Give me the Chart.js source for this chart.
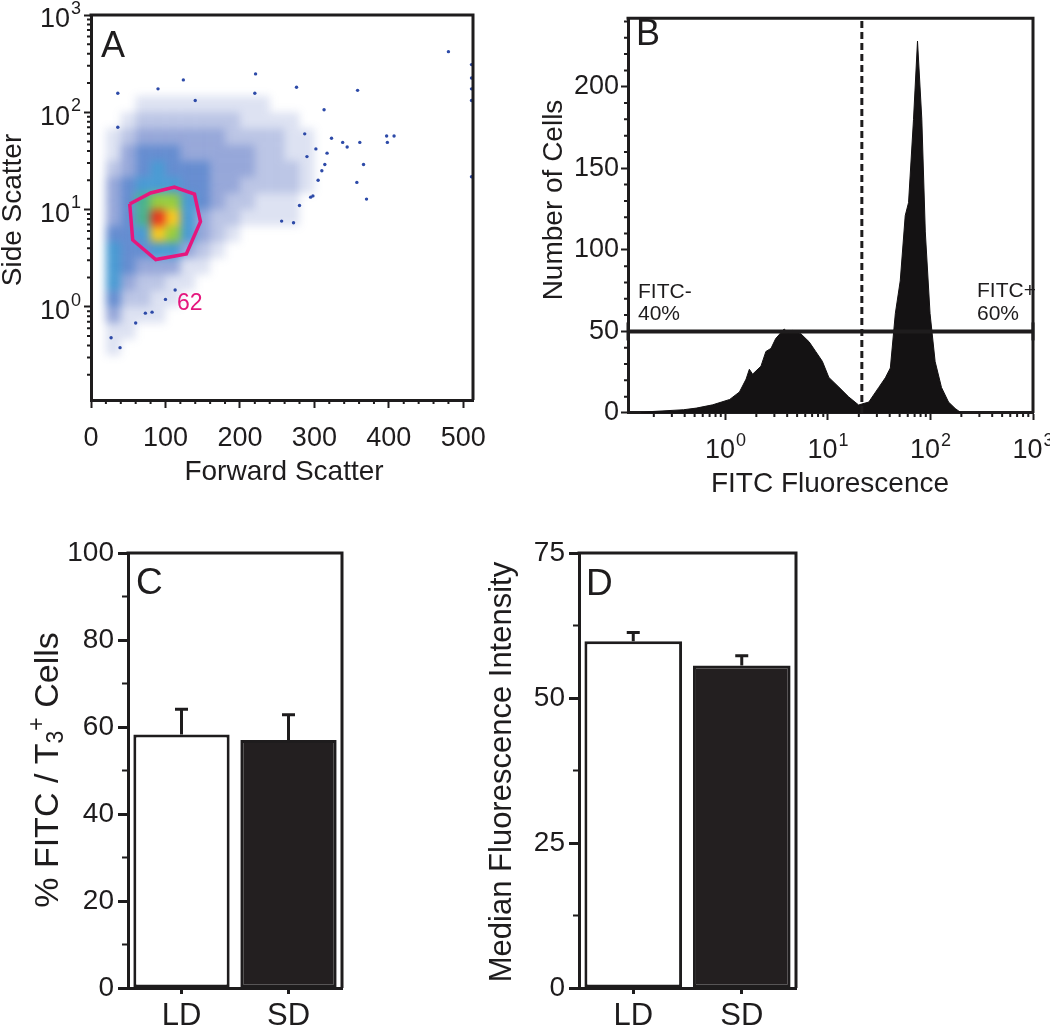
<!DOCTYPE html>
<html lang="en">
<head>
<meta charset="UTF-8" />
<title>T3-FITC uptake: flow cytometry</title>
<script src="https://cdn.jsdelivr.net/npm/chart.js@4"></script>
<style>
  body { margin: 0; background: #fff; }
  #wrap { position: relative; width: 1050px; height: 1027px; }
  #wrap canvas { position: absolute; left: 0; top: 0; }
</style>
</head>
<body>
<div id="wrap">
  <canvas id="chartA" width="1050" height="1027"></canvas>
  <canvas id="chartB" width="1050" height="1027"></canvas>
  <canvas id="chartC" width="1050" height="1027"></canvas>
  <canvas id="chartD" width="1050" height="1027"></canvas>
</div>
<script>
// ---------- data ----------
// A: forward / side scatter. Event density per bin (0 = empty .. 9 = densest)
const fscBinEdges = [0, 20, 40, 60, 80, 100, 120, 140, 160, 180, 200, 220, 240, 260, 280, 300];
const sscBinEdges = [0.316, 0.464, 0.681, 1, 1.47, 2.15, 3.16, 4.64, 6.81, 10, 14.7, 21.5, 31.6, 46.4, 68.1, 100, 147];
const scatterDensity = [
  [0,1,0,0,0,0,0,0,0,0,0,0,0,0,0],
  [0,1,1,0,0,0,0,0,0,0,0,0,0,0,0],
  [0,3,1,1,1,0,0,0,0,0,0,0,0,0,0],
  [0,4,2,2,1,1,0,0,0,0,0,0,0,0,0],
  [0,5,3,2,2,1,1,0,0,0,0,0,0,0,0],
  [0,5,4,3,3,3,1,1,0,0,0,0,0,0,0],
  [0,5,4,4,5,5,3,2,1,0,0,0,0,0,0],
  [0,4,4,5,8,7,5,3,2,1,0,0,0,0,0],
  [0,3,4,6,9,8,5,3,2,2,1,1,1,1,0],
  [0,3,4,6,7,7,5,4,3,2,2,1,1,1,0],
  [0,3,4,5,5,5,4,4,3,3,2,2,2,2,1],
  [0,2,3,4,5,4,4,4,3,3,3,2,2,2,1],
  [0,1,3,4,4,4,3,3,3,3,3,2,2,1,1],
  [0,1,2,3,3,3,3,3,3,2,2,2,2,1,1],
  [0,0,1,2,2,2,2,2,2,2,1,1,1,1,0],
  [0,0,0,1,1,1,1,1,1,1,1,1,0,0,0]
];
// isolated events outside the main cloud
const sparseFsc = [276, 358, 397, 407, 398, 366, 357, 370, 338, 344, 361, 323, 313, 317, 314, 310, 298, 295, 272, 256,
  511, 511, 511, 511, 511, 480, 36, 90, 124, 221, 36, 140, 220, 27, 39, 60, 73, 82, 100, 113, 290, 302, 287, 305, 280];
const sparseSsc = [181, 168, 57, 57, 49, 29, 19, 12.8, 49, 44, 49, 54, 106, 38, 29, 25, 13.8, 13.4, 7.3, 7.6,
  309, 225, 174, 132, 21.7, 420, 157, 174, 215, 248, 70, 132, 157, 0.48, 0.38, 0.68, 0.86, 0.88, 1.19, 1.49, 35, 42, 60, 20, 11];
const gateFsc = [52, 80, 112, 139, 147, 128, 87, 56, 52];
const gateSsc = [11.4, 14.8, 17.0, 14.4, 7.5, 3.5, 3.06, 4.86, 11.4];
const gatePercent = '62';
const fscTicks = [0, 100, 200, 300, 400, 500];
const sscDecades = [0, 1, 2, 3];

// B: FITC histogram
const fitcIntensity = [0.15, 0.18, 0.39, 0.52, 0.75, 1.1, 1.37, 1.59, 1.71, 1.84, 2.22, 2.48, 2.78, 3.09, 3.74, 4.1, 4.51,
  5.43, 6.55, 7.59, 8.81, 10.2, 12.8, 15.9, 19.9, 21.4, 25, 31.3, 36.3, 40.6, 45.4, 50.7, 56.7, 61.1, 68.3, 74.7, 82.3,
  89, 99, 111, 128, 150, 174, 200];
const cellCount = [0, 0.8, 2, 3, 5, 8.3, 12.9, 20.8, 26.8, 23.8, 28.7, 37.7, 39.6, 45.6, 51.5, 49, 50.6,
  48.6, 43.6, 37.7, 31.7, 21.8, 15.8, 9.9, 4.9, 5.5, 6.7, 15.7, 21.6, 27.6, 61, 81, 121, 129, 180, 228, 180,
  111, 61, 31.5, 15.7, 6.7, 2.8, 0];
const markerRange = [0.112, 1000];
const markerLevel = 50;
const fitcCutoff = 21.4;
const cellTicks = [0, 50, 100, 150, 200];
const fitcDecades = [0, 1, 2, 3];
const fitcNegLabel = ['FITC-', '40%'];
const fitcPosLabel = ['FITC+', '60%'];

// C, D: group means with SEM
const groups = ['LD', 'SD'];
const pctPositive = [58.3, 57.0];
const pctPositiveErr = [5.8, 5.8];
const pctTicks = [0, 20, 40, 60, 80, 100];
const medianFluor = [59.8, 55.6];
const medianFluorErr = [1.5, 1.7];
const mfiTicks = [0, 25, 50, 75];

// ---------- shared style ----------
const INK = '#1e1c1d';
const FONT = "'Liberation Sans', Arial, Helvetica, sans-serif";
const PINK = '#e5177e';
Chart.defaults.font.family = FONT;
Chart.defaults.color = INK;
Chart.defaults.animation = false;
Chart.defaults.events = [];
Chart.defaults.plugins.legend.display = false;
Chart.defaults.plugins.tooltip.enabled = false;

const densityColors = [null,
  'rgba(45,75,175,0.16)', 'rgba(45,75,175,0.32)', 'rgba(45,80,180,0.5)', 'rgba(40,95,190,0.72)',
  'rgba(45,140,205,0.88)', 'rgb(70,178,140)', 'rgb(150,205,60)', 'rgb(248,200,30)', 'rgb(232,52,25)'];

function setTicks(values) {
  return scale => { scale.ticks = values.map(v => ({ value: v })); };
}

function axisStyle(tickLen, tickW) {
  return {
    border: { display: true, width: 3, color: INK },
    grid: { display: true, drawOnChartArea: false, drawTicks: true, tickLength: tickLen, tickWidth: tickW, tickColor: INK }
  };
}

function drawFrame(ctx, a) {
  ctx.save();
  ctx.strokeStyle = INK; ctx.lineWidth = 3;
  ctx.beginPath();
  ctx.moveTo(a.left - 1.5, a.top);
  ctx.lineTo(a.right, a.top);
  ctx.lineTo(a.right, a.bottom);
  ctx.stroke();
  ctx.restore();
}

function minorTicks(ctx, scale, values, len) {
  ctx.save();
  ctx.strokeStyle = INK; ctx.lineWidth = 2;
  ctx.beginPath();
  values.forEach(v => {
    const p = scale.getPixelForValue(v);
    if (scale.isHorizontal()) { ctx.moveTo(p, scale.top); ctx.lineTo(p, scale.top + len); }
    else { ctx.moveTo(scale.right, p); ctx.lineTo(scale.right - len, p); }
  });
  ctx.stroke();
  ctx.restore();
}

function logMinor(min, max) {
  const out = [];
  for (let d = 0.1; d < max; d *= 10) {
    for (let k = 2; k <= 9; k++) {
      const v = k * d;
      if (v > min && v < max) out.push(v);
    }
  }
  return out;
}

function powerLabel(ctx, exp, x, yBase, yExp, align) {
  ctx.save();
  ctx.fillStyle = INK; ctx.textBaseline = 'middle'; ctx.textAlign = 'left';
  ctx.font = `27px ${FONT}`;
  const wb = ctx.measureText('10').width;
  ctx.font = `18px ${FONT}`;
  const we = ctx.measureText(String(exp)).width;
  const left = align === 'right' ? x - wb - we - 1 : x - (wb + we + 1) / 2;
  ctx.font = `27px ${FONT}`;
  ctx.fillText('10', left, yBase);
  ctx.font = `18px ${FONT}`;
  ctx.fillText(String(exp), left + wb + 1, yExp);
  ctx.restore();
}

function text(ctx, str, x, y, size, opts = {}) {
  ctx.save();
  ctx.fillStyle = opts.color || INK;
  ctx.font = `${size}px ${FONT}`;
  ctx.textAlign = opts.align || 'left';
  ctx.textBaseline = opts.baseline || 'alphabetic';
  if (opts.rotate) { ctx.translate(x, y); ctx.rotate(-Math.PI / 2); ctx.fillText(str, 0, 0); }
  else ctx.fillText(str, x, y);
  ctx.restore();
}

// rotated title made of runs with sub/superscripts
function richTitle(ctx, runs, cx, cy) {
  ctx.save();
  ctx.fillStyle = INK; ctx.textBaseline = 'middle'; ctx.textAlign = 'left';
  let total = 0;
  runs.forEach(r => { ctx.font = `${r.size}px ${FONT}`; r.w = ctx.measureText(r.t).width; total += r.w; });
  ctx.translate(cx, cy); ctx.rotate(-Math.PI / 2);
  let x = -total / 2;
  runs.forEach(r => { ctx.font = `${r.size}px ${FONT}`; ctx.fillText(r.t, x, r.dy || 0); x += r.w; });
  ctx.restore();
}

function fixWidth(w) { return s => { s.width = w; }; }
function fixHeight(h) { return s => { s.height = h; }; }

// ---------- Panel A ----------
const densityLayer = {
  id: 'densityLayer',
  beforeDatasetsDraw(chart) {
    const { ctx, chartArea: a, scales: { x, y } } = chart;
    const off = document.createElement('canvas');
    off.width = chart.width; off.height = chart.height;
    const o = off.getContext('2d');
    scatterDensity.forEach((row, j) => row.forEach((lvl, i) => {
      if (!lvl) return;
      const x0 = x.getPixelForValue(fscBinEdges[i]);
      const x1 = x.getPixelForValue(fscBinEdges[i + 1]);
      const y0 = y.getPixelForValue(sscBinEdges[j]);
      const y1 = y.getPixelForValue(sscBinEdges[j + 1]);
      o.fillStyle = densityColors[lvl];
      o.fillRect(x0, y1, x1 - x0, y0 - y1);
    }));
    ctx.save();
    ctx.beginPath(); ctx.rect(a.left, a.top, a.width, a.height); ctx.clip();
    ctx.filter = 'blur(4px)';
    ctx.drawImage(off, 0, 0);
    ctx.restore();
  }
};

const decorA = {
  id: 'decorA',
  afterDraw(chart) {
    const { ctx, chartArea: a, scales: { x, y } } = chart;
    drawFrame(ctx, a);
    minorTicks(ctx, y, logMinor(y.min, y.max), 4);
    const mx = [];
    for (let v = 20; v < 513; v += 20) if (v % 100) mx.push(v);
    minorTicks(ctx, x, mx, 4);
    sscDecades.forEach(e => {
      const p = y.getPixelForValue(Math.pow(10, e));
      powerLabel(ctx, e, 81, p + 5, p - 6, 'right');
    });
    text(ctx, 'Side Scatter', 13, 210, 28, { rotate: true, align: 'center', baseline: 'middle' });
    text(ctx, 'Forward Scatter', 284, 472, 28, { align: 'center', baseline: 'middle' });
    text(ctx, 'A', 101, 57, 36);
    text(ctx, gatePercent, 177, 310, 23, { color: PINK });
  }
};

new Chart(document.getElementById('chartA'), {
  type: 'scatter',
  data: {
    datasets: [
      {
        data: gateFsc.map((v, i) => ({ x: v, y: gateSsc[i] })),
        showLine: true, borderColor: PINK, borderWidth: 3.5, pointRadius: 0, tension: 0, order: 0
      },
      {
        data: sparseFsc.map((v, i) => ({ x: v, y: sparseSsc[i] })),
        pointRadius: 1.7, pointBorderWidth: 0, backgroundColor: '#2d4aa8', order: 1
      }
    ]
  },
  options: {
    responsive: false,
    layout: { autoPadding: false, padding: { left: 0, top: 15, right: 577, bottom: 557 } },
    scales: {
      x: {
        type: 'linear', min: 0, max: 513, ...axisStyle(8, 2),
        afterBuildTicks: setTicks(fscTicks), afterFit: fixHeight(70),
        ticks: { font: { size: 27 }, padding: 14, maxRotation: 0 }
      },
      y: {
        type: 'logarithmic', min: 0.11, max: 1000, ...axisStyle(7, 2),
        afterBuildTicks: setTicks(sscDecades.map(e => Math.pow(10, e))), afterFit: fixWidth(91),
        ticks: { display: false }
      }
    }
  },
  plugins: [densityLayer, decorA]
});

// ---------- Panel B ----------
const decorB = {
  id: 'decorB',
  afterDraw(chart) {
    const { ctx, chartArea: a, scales: { x, y } } = chart;
    drawFrame(ctx, a);
    minorTicks(ctx, x, logMinor(x.min, x.max), 4);
    const my = [];
    for (let v = 10; v < 242; v += 10) if (v % 50) my.push(v);
    minorTicks(ctx, y, my, 4);
    fitcDecades.forEach(e => {
      powerLabel(ctx, e, x.getPixelForValue(Math.pow(10, e)), 451, 441, 'center');
    });
    text(ctx, 'Number of Cells', 554, 200, 28, { rotate: true, align: 'center', baseline: 'middle' });
    text(ctx, 'FITC Fluorescence', 830, 484, 28, { align: 'center', baseline: 'middle' });
    text(ctx, 'B', 636, 45, 36);
    text(ctx, fitcNegLabel[0], 638, 298, 21);
    text(ctx, fitcNegLabel[1], 638, 320, 21);
    text(ctx, fitcPosLabel[0], 977, 297, 21);
    text(ctx, fitcPosLabel[1], 977, 320, 21);
  }
};

new Chart(document.getElementById('chartB'), {
  type: 'scatter',
  data: {
    datasets: [
      {
        data: markerRange.map(v => ({ x: v, y: markerLevel })),
        showLine: true, borderColor: INK, borderWidth: 4, clip: false,
        pointStyle: 'line', rotation: 90, pointRadius: 9, pointBorderWidth: 3,
        pointBorderColor: INK, order: 1
      },
      {
        data: [{ x: fitcCutoff, y: 0 }, { x: fitcCutoff, y: 242 }],
        showLine: true, borderColor: INK, borderWidth: 3, borderDash: [7, 4],
        pointRadius: 0, order: 2
      },
      {
        data: fitcIntensity.map((v, i) => ({ x: v, y: cellCount[i] })),
        showLine: true, fill: 'origin', backgroundColor: '#141213', borderColor: '#141213',
        borderWidth: 1, pointRadius: 0, tension: 0, order: 3
      }
    ]
  },
  options: {
    responsive: false,
    layout: { autoPadding: false, padding: { left: 525, top: 6, right: 17, bottom: 554 } },
    scales: {
      x: {
        type: 'logarithmic', min: 0.112, max: 1000, ...axisStyle(7, 2),
        afterBuildTicks: setTicks(fitcDecades.map(e => Math.pow(10, e))), afterFit: fixHeight(60),
        ticks: { display: false }
      },
      y: {
        type: 'linear', min: 0, max: 242, ...axisStyle(7, 2),
        afterBuildTicks: setTicks(cellTicks), afterFit: fixWidth(103),
        ticks: { font: { size: 27 }, padding: 2 }
      }
    }
  },
  plugins: [decorB]
});

// ---------- Panels C and D ----------
function errorBars(errors) {
  return {
    id: 'errorBars',
    afterDatasetsDraw(chart) {
      const { ctx, scales: { y } } = chart;
      const meta = chart.getDatasetMeta(0);
      const vals = chart.data.datasets[0].data;
      ctx.save();
      ctx.strokeStyle = INK; ctx.lineWidth = 3;
      meta.data.forEach((bar, i) => {
        const top = y.getPixelForValue(vals[i] + errors[i]);
        ctx.beginPath();
        ctx.moveTo(bar.x, bar.y); ctx.lineTo(bar.x, top);
        ctx.moveTo(bar.x - 6.5, top); ctx.lineTo(bar.x + 6.5, top);
        ctx.stroke();
      });
      ctx.restore();
    }
  };
}

function barDecor(letter, lx, ly, minors, titleFn) {
  return {
    id: 'barDecor',
    afterDraw(chart) {
      const { ctx, chartArea: a, scales: { y } } = chart;
      drawFrame(ctx, a);
      minorTicks(ctx, y, minors, 6);
      text(ctx, letter, lx, ly, 37);
      titleFn(ctx);
    }
  };
}

function barChart(id, values, errors, ticks, max, padLeft, yWidth, padRight, decor) {
  return new Chart(document.getElementById(id), {
    type: 'bar',
    data: {
      labels: groups,
      datasets: [{
        data: values,
        backgroundColor: ['#ffffff', '#231f20'],
        borderColor: INK, borderWidth: 3, borderSkipped: false,
        categoryPercentage: 0.9, barPercentage: 1.0
      }]
    },
    options: {
      responsive: false,
      layout: { autoPadding: false, padding: { left: padLeft, top: 553, right: padRight, bottom: 0 } },
      scales: {
        x: {
          ...axisStyle(6, 3), grid: { display: true, offset: false, drawOnChartArea: false, drawTicks: true, tickLength: 6, tickWidth: 3, tickColor: INK },
          afterFit: fixHeight(39),
          ticks: { font: { size: 31 }, padding: 4 }
        },
        y: {
          type: 'linear', min: 0, max: max, ...axisStyle(10, 3),
          afterBuildTicks: setTicks(ticks), afterFit: fixWidth(yWidth),
          ticks: { font: { size: 28 }, padding: 4 }
        }
      }
    },
    plugins: [errorBars(errors), decor]
  });
}

barChart('chartC', pctPositive, pctPositiveErr, pctTicks, 100, 0, 128, 708,
  barDecor('C', 136, 594, [10, 30, 50, 70, 90], ctx => richTitle(ctx, [
    { t: '% FITC / T', size: 34 },
    { t: '3', size: 23, dy: 8 },
    { t: '+', size: 23, dy: -11 },
    { t: ' Cells', size: 34 }
  ], 49, 770)));

barChart('chartD', medianFluor, medianFluorErr, mfiTicks, 75, 480, 99, 254,
  barDecor('D', 586, 595, [12.5, 37.5, 62.5], ctx =>
    text(ctx, 'Median Fluorescence Intensity', 502, 772, 31, { rotate: true, align: 'center', baseline: 'middle' })));
</script>
</body>
</html>
